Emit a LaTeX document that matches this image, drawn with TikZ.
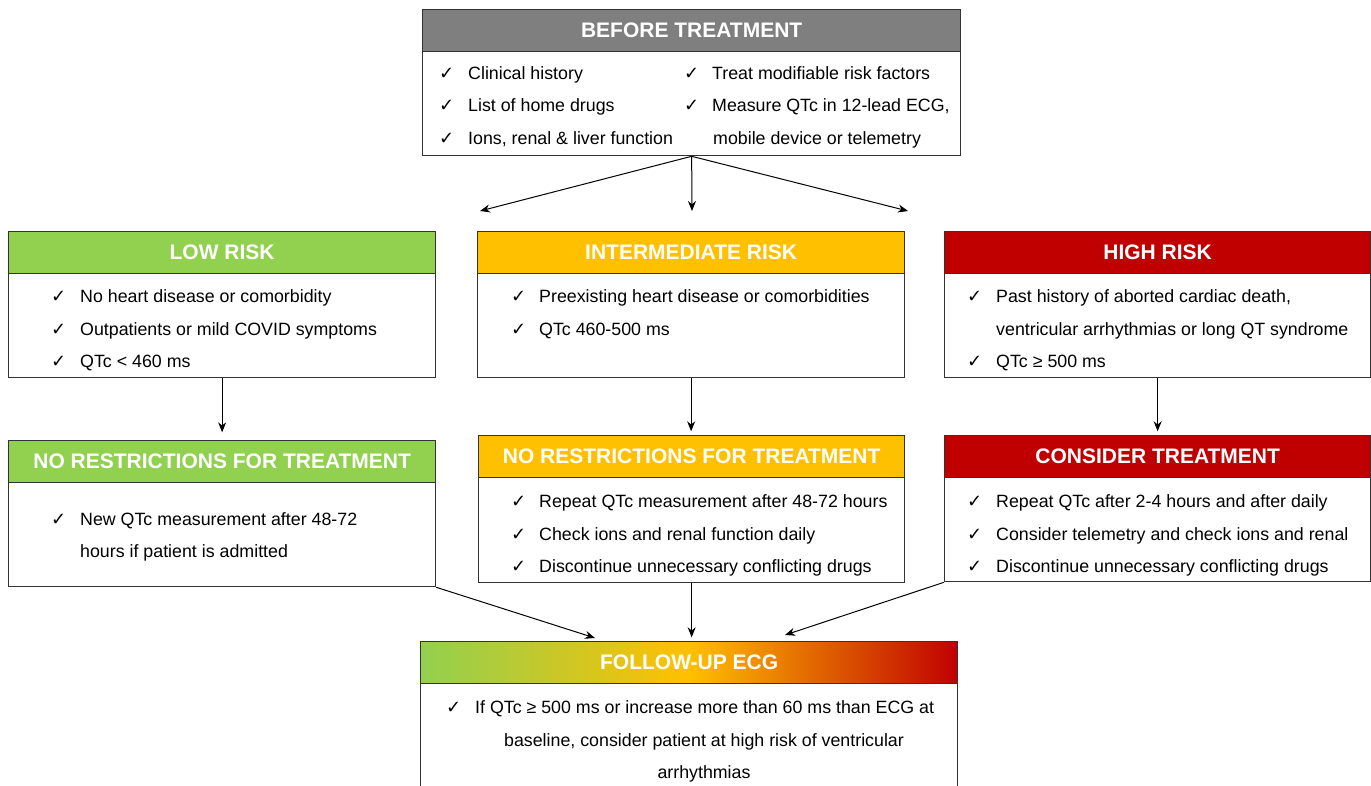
\documentclass[tikz,border=0pt]{standalone}
\usepackage{fontspec}
\setmainfont{Liberation Sans}
\newfontfamily\symf{DejaVu Sans}
\usetikzlibrary{arrows.meta}
\definecolor{hgrey}{HTML}{7F7F7F}
\definecolor{hgreen}{HTML}{92D050}
\definecolor{hgold}{HTML}{FFC000}
\definecolor{hred}{HTML}{C00000}
\definecolor{edge}{HTML}{333333}
\tikzset{
 hdr/.style={draw=edge, line width=1.3pt, minimum height=42pt, inner sep=0pt, text=white, font=\fontsize{21}{24}\selectfont\bfseries, anchor=north west},
 body/.style={draw=edge, line width=1.3pt, fill=white, inner sep=0pt, anchor=north west},
 ln/.style={anchor=base west, inner sep=0pt, font=\fontsize{17.8}{20}\selectfont, text=black},
 lnc/.style={anchor=base, inner sep=0pt, font=\fontsize{17.8}{20}\selectfont, text=black},
 ck/.style={anchor=base west, inner sep=0pt, font=\symf\fontsize{18}{20}\selectfont},
 arr/.style={draw=black, line width=1pt, -{Stealth[length=10pt,width=8pt]}}
}
\newcommand\ckl[5]{\node[ck] (#1c) at (#2,#4) {✓}; \node[ln] (#1) at (#3,#4) {#5};}
\begin{document}
\begin{tikzpicture}[x=1pt,y=-1pt]
\useasboundingbox (0,0) rectangle (1371,786);
\clip (0,0) rectangle (1371,786);
% BEFORE TREATMENT
\node[hdr, fill=hgrey, minimum width=538pt] (bh) at (422,9) {BEFORE TREATMENT};
\node[body, minimum width=538pt, minimum height=104pt] (bb) at (422,51) {};
\ckl{b1}{439}{468}{80}{Clinical history}
\ckl{b2}{439}{468}{112}{List of home drugs}
\ckl{b3}{439}{468}{145}{Ions, renal \& liver function}
\ckl{b4}{684}{712}{80}{Treat modifiable risk factors}
\ckl{b5}{684}{712}{112}{Measure QTc in 12-lead ECG,}
\node[ln] (b6) at (713,145) {mobile device or telemetry};
% LOW RISK
\node[hdr, fill=hgreen, minimum width=427pt] (lh) at (8,231) {LOW RISK};
\node[body, minimum width=427pt, minimum height=104pt] (lb) at (8,273) {};
\ckl{l1}{51}{80}{303}{No heart disease or comorbidity}
\ckl{l2}{51}{80}{335}{Outpatients or mild COVID symptoms}
\ckl{l3}{51}{80}{367}{QTc < 460 ms}
% INTERMEDIATE RISK
\node[hdr, fill=hgold, minimum width=427pt] (ih) at (477,231) {INTERMEDIATE RISK};
\node[body, minimum width=427pt, minimum height=104pt] (ib) at (477,273) {};
\ckl{i1}{511}{539}{303}{Preexisting heart disease or comorbidities}
\ckl{i2}{511}{539}{335}{QTc 460-500 ms}
% HIGH RISK
\node[hdr, fill=hred, minimum width=426pt] (hh) at (944,231) {HIGH RISK};
\node[body, minimum width=426pt, minimum height=104pt] (hb) at (944,273) {};
\ckl{h1}{967}{996}{303}{Past history of aborted cardiac death,}
\node[ln] (h2) at (996,335) {ventricular arrhythmias or long QT syndrome};
\ckl{h3}{967}{996}{367}{QTc ≥ 500 ms}
% LOW -> NO RESTRICTIONS
\node[hdr, fill=hgreen, minimum width=427pt] (lh2) at (8,440) {NO RESTRICTIONS FOR TREATMENT};
\node[body, minimum width=427pt, minimum height=104pt] (lb2) at (8,482) {};
\ckl{m1}{51}{80}{525}{New QTc measurement after 48-72}
\node[ln] (m2) at (80,557) {hours if patient is admitted};
% INTERMEDIATE -> NO RESTRICTIONS
\node[hdr, fill=hgold, minimum width=426pt] (ih2) at (478,435) {NO RESTRICTIONS FOR TREATMENT};
\node[body, minimum width=426pt, minimum height=105pt] (ib2) at (478,477) {};
\ckl{n1}{511}{539}{507}{Repeat QTc measurement after 48-72 hours}
\ckl{n2}{511}{539}{540}{Check ions and renal function daily}
\ckl{n3}{511}{539}{572}{Discontinue unnecessary conflicting drugs}
% HIGH -> CONSIDER
\node[hdr, fill=hred, minimum width=426pt] (hh2) at (944,435) {CONSIDER TREATMENT};
\node[body, minimum width=426pt, minimum height=104pt] (hb2) at (944,477) {};
\ckl{c1}{967}{996}{507}{Repeat QTc after 2-4 hours and after daily}
\ckl{c2}{967}{996}{540}{Consider telemetry and check ions and renal}
\ckl{c3}{967}{996}{572}{Discontinue unnecessary conflicting drugs}
% FOLLOW-UP
\node[hdr, left color=hgreen, right color=hred, middle color=hgold, minimum width=537pt] (fh) at (420,641) {FOLLOW-UP ECG};
\node[body, minimum width=537pt, minimum height=120pt] (fb) at (420,683) {};
\ckl{f1}{446}{475}{713}{If QTc ≥ 500 ms or increase more than 60 ms than ECG at}
\node[lnc] (f2) at (704,746) {baseline, consider patient at high risk of ventricular};
\node[lnc] (f3) at (704,778) {arrhythmias};
% connectors
\coordinate (t1) at (480,211);
\coordinate (t2) at (692,211);
\coordinate (t3) at (908,211);
\draw[arr] (bb.south) -- (t1);
\draw[arr] (bb.south) -- (t2);
\draw[arr] (bb.south) -- (t3);
\draw[arr] (lb.south) -- ++(0,54);
\draw[arr] (ib.south) -- ++(0,53);
\draw[arr] (hb.south) -- ++(0,53);
\coordinate (u1) at (595,638);
\coordinate (u3) at (785,635);
\draw[arr] (lb2.south east) -- (u1);
\draw[arr] (ib2.south) -- ++(0,54);
\draw[arr] (hb2.south west) -- (u3);
\end{tikzpicture}
\end{document}
